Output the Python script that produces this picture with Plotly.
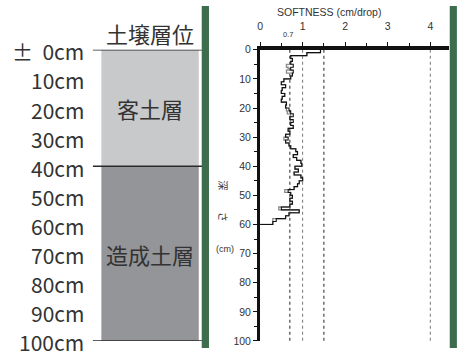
import plotly.graph_objects as go

# ---------------- data ----------------
depth_cm = list(range(0, 61))
softness = [1.42, 1.10, 0.72, 0.76, 0.72, 0.78, 0.72, 0.78, 0.76, 0.72,
            0.56, 0.50, 0.60, 0.52, 0.50, 0.58, 0.52, 0.50, 0.62, 0.60,
            0.68, 0.72, 0.78, 0.70, 0.78, 0.72, 0.78, 0.66, 0.70, 0.60,
            0.66, 0.60, 0.68, 0.72, 0.84, 0.88, 0.78, 0.86, 0.96, 0.98,
            0.82, 0.90, 0.80, 0.96, 1.00, 0.92, 0.88, 0.80, 0.66, 0.72,
            0.76, 0.70, 0.76, 0.70, 0.50, 0.92, 0.68, 0.60, 0.38, 0.30,
            0.00]
softness_2 = [1.42, 1.10, 0.72, 0.76, 0.72, 0.62, 0.66, 0.62, 0.76, 0.72,
              0.56, 0.50, 0.60, 0.52, 0.50, 0.58, 0.52, 0.50, 0.62, 0.60,
              0.62, 0.64, 0.72, 0.70, 0.72, 0.72, 0.78, 0.66, 0.70, 0.60,
              0.56, 0.60, 0.68, 0.72, 0.84, 0.88, 0.78, 0.86, 0.96, 0.98,
              0.82, 0.90, 0.80, 0.96, 1.00, 0.92, 0.88, 0.80, 0.58, 0.72,
              0.76, 0.70, 0.76, 0.70, 0.44, 0.92, 0.68, 0.60, 0.30, 0.30,
              0.00]
x_ticks = [0, 1, 2, 3, 4]
y_ticks = list(range(0, 101, 10))
ref_lines = [0.7, 1.0, 1.5, 4.0]
ref_colors = ["#222222", "#777777", "#222222", "#777777"]

layer_names = ["客土層", "造成土層"]
layer_tops = [0, 40]
layer_bottoms = [40, 100]
layer_colors = ["#c8c9cb", "#949599"]
depth_labels = ["±\u00a0\u00a00cm", "10cm", "20cm", "30cm", "40cm", "50cm",
                "60cm", "70cm", "80cm", "90cm", "100cm"]
depth_label_vals = list(range(0, 101, 10))

W, H = 473, 354
def px(x):
    return x / W
def py(y):
    return 1 - y / H

GREEN = "#3d6d4d"
TXT = "#333333"
JP = "Noto Sans CJK JP"
LAT = "Liberation Sans"

fig = go.Figure()

fig.add_trace(go.Scatter(x=softness_2, y=depth_cm, mode="lines",
                         line=dict(color="#8a8a8a", width=1.3, shape="vh"),
                         showlegend=False, hoverinfo="skip"))
fig.add_trace(go.Scatter(x=softness, y=depth_cm, mode="lines",
                         line=dict(color="#111111", width=1.1, shape="vh"),
                         showlegend=False))

shapes = []
for v, c in zip(ref_lines, ref_colors):
    shapes.append(dict(type="line", xref="x", yref="y", x0=v, x1=v, y0=0, y1=100,
                       line=dict(color=c, width=1, dash="3px,3px"), layer="below"))
for t, b, col in zip(layer_tops, layer_bottoms, layer_colors):
    shapes.append(dict(type="rect", xref="paper", yref="y", x0=px(99), x1=px(197),
                       y0=t, y1=b, fillcolor=col, line=dict(width=0), layer="below"))
for d in [0, 40, 100]:
    shapes.append(dict(type="line", xref="paper", yref="y", x0=px(90.5), x1=px(201),
                       y0=d, y1=d, line=dict(color="#2a2a2a", width=1.6)))
shapes.append(dict(type="rect", xref="paper", yref="paper", x0=px(200), x1=px(207.3),
                   y0=0, y1=1, fillcolor=GREEN, line=dict(width=0)))
shapes.append(dict(type="rect", xref="paper", yref="paper", x0=px(449.6), x1=px(456.8),
                   y0=0, y1=1, fillcolor=GREEN, line=dict(width=0)))

ann = []
for lab, d in zip(depth_labels, depth_label_vals):
    ann.append(dict(text=lab, xref="paper", yref="y", x=px(84), y=d, xanchor="right",
                    yanchor="middle", yshift=-1.5, showarrow=False,
                    font=dict(family=JP, size=21, color=TXT)))
for name, t, b in zip(layer_names, layer_tops, layer_bottoms):
    ann.append(dict(text=name, xref="paper", yref="y", x=px(148), y=(t + b) / 2,
                    xanchor="center", yanchor="middle", showarrow=False,
                    font=dict(family=JP, size=22, color=TXT)))
ann.append(dict(text="土壌層位", xref="paper", yref="paper", x=px(148), y=py(28),
                xanchor="center", yanchor="middle", showarrow=False,
                font=dict(family=JP, size=22, color=TXT)))
ann.append(dict(text="SOFTNESS (cm/drop)", xref="paper", yref="paper", x=px(328), y=py(6),
                xanchor="center", yanchor="middle", showarrow=False,
                font=dict(family=LAT, size=10.5, color=TXT)))
ann.append(dict(text="0.7", xref="x", yref="paper", x=0.66, y=py(29),
                xanchor="center", yanchor="middle", showarrow=False,
                font=dict(family=LAT, size=7.5, color=TXT)))
ann.append(dict(text="深", xref="paper", yref="paper", x=px(222), y=py(185),
                xanchor="center", yanchor="middle", showarrow=False, textangle=90,
                font=dict(family=JP, size=10, color=TXT)))
ann.append(dict(text="さ", xref="paper", yref="paper", x=px(222), y=py(218),
                xanchor="center", yanchor="middle", showarrow=False, textangle=90,
                font=dict(family=JP, size=10, color=TXT)))
ann.append(dict(text="(cm)", xref="paper", yref="paper", x=px(223), y=py(252),
                xanchor="center", yanchor="middle", showarrow=False,
                font=dict(family=LAT, size=9, color=TXT)))

fig.update_layout(
    width=W, height=H, margin=dict(l=0, r=0, t=0, b=0),
    paper_bgcolor="white", plot_bgcolor="white",
    shapes=shapes, annotations=ann, showlegend=False,
    xaxis=dict(domain=[px(258.7), px(449.3)], range=[0, 4.45], side="top",
               tickvals=x_ticks, ticks="outside", ticklen=4, tickwidth=1,
               tickcolor="#111", showline=True, linecolor="#111", linewidth=3.5,
               showgrid=False, zeroline=False,
               tickfont=dict(family=LAT, size=10.5, color=TXT),
               ticklabelstandoff=8,
               minor=dict(dtick=0.5, ticks="outside", ticklen=3, tickcolor="#111")),
    yaxis=dict(domain=[py(346.7), py(45.3)], range=[100, 0],
               tickvals=y_ticks, ticks="outside", ticklen=4, tickwidth=1,
               tickcolor="#111", showline=True, linecolor="#111", linewidth=3,
               showgrid=False, zeroline=False,
               tickfont=dict(family=LAT, size=10.5, color=TXT),
               minor=dict(dtick=5, ticks="outside", ticklen=3, tickcolor="#111")),
)

fig.write_html("out.html", config={"displayModeBar": False},
               post_script="document.body.style.margin='0';")
